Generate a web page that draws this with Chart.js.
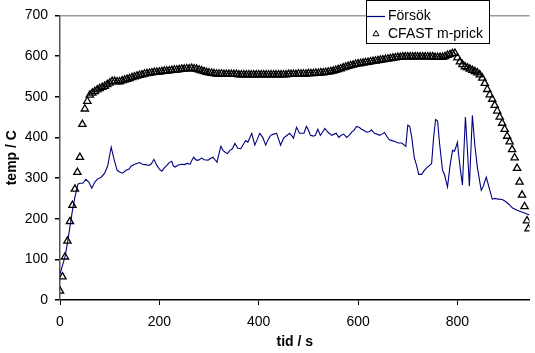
<!DOCTYPE html>
<html>
<head>
<meta charset="utf-8">
<script src="https://cdn.jsdelivr.net/npm/chart.js@4"></script>
<style>
  body { margin: 0; background: #fff; }
  canvas { display: block; }
</style>
</head>
<body>
<canvas id="myChart" width="535" height="353"></canvas>
<script>
// Serie 1: Försök (mätning)
const forsokTid = [0, 5, 10, 15, 20, 25, 30, 36, 40, 46, 52, 58, 64, 70, 76, 83, 90, 96, 103, 109,
  115, 120, 126, 133, 139, 143, 149, 155, 160, 166, 172, 179, 184, 189, 195, 200, 205, 210, 215, 220,
  225, 228, 232, 238, 245, 250, 256, 262, 266, 269, 274, 279, 285, 290, 298, 303, 308, 312, 316, 320,
  324, 328, 332, 337, 342, 347, 352, 358, 364, 370, 374, 378, 386, 392, 397, 402, 408, 414, 419, 424,
  430, 436, 444, 450, 456, 462, 466, 470, 476, 482, 491, 496, 500, 504, 510, 514, 519, 524, 528, 533,
  540, 547, 552, 556, 561, 566, 571, 577, 582, 587, 592, 597, 602, 607, 612, 617, 622, 627, 633, 638,
  643, 648, 653, 658, 663, 668, 674, 681, 688, 696, 700, 704, 708, 713, 718, 722, 728, 733, 738, 743,
  748, 752, 756, 760, 764, 770, 774, 780, 785, 790, 794, 798, 800, 802, 806, 810, 816, 820, 824, 830,
  835, 840, 845, 848, 852, 858, 864, 870, 876, 882, 890, 896, 904, 911, 920, 928, 935, 945];
const forsokTemp = [64, 85, 106, 140, 180, 220, 253, 285, 287, 287, 297, 290, 275, 290, 298, 302, 312, 330, 376, 345,
  319, 315, 312, 319, 322, 329, 333, 336, 338, 334, 333, 331, 335, 346, 331, 322, 317, 325, 331, 338,
  341, 330, 327, 332, 334, 333, 336, 334, 345, 351, 344, 344, 349, 345, 344, 348, 351, 345, 339, 360,
  378, 368, 364, 360, 368, 372, 385, 373, 372, 385, 392, 388, 410, 381, 395, 410, 400, 381, 395, 405,
  408, 410, 381, 398, 404, 410, 405, 398, 425, 410, 410, 427, 418, 405, 403, 405, 420, 405, 412, 422,
  412, 405, 408, 410, 400, 405, 408, 400, 405, 413, 418, 427, 425, 420, 417, 413, 414, 418, 410, 408,
  405, 408, 412, 402, 394, 392, 390, 386, 386, 378, 430, 427, 400, 351, 330, 309, 309, 318, 325, 330,
  336, 400, 444, 440, 385, 319, 308, 278, 330, 368, 366, 380, 388, 361, 320, 283, 450, 370, 280, 454,
  380, 327, 290, 270, 280, 302, 275, 248, 250, 248, 247, 243, 235, 226, 221, 217, 214, 209];

// Serie 2: CFAST m-prick (beräkning)
const cfastTid = [0, 5, 10, 15, 20, 25, 30, 35, 40, 45, 50, 55, 60, 65, 70, 75, 80, 85, 90, 95,
  100, 105, 110, 115, 120, 125, 130, 135, 140, 145, 150, 155, 160, 165, 170, 175, 180, 185, 190, 195,
  200, 205, 210, 215, 220, 225, 230, 235, 240, 245, 250, 255, 260, 265, 270, 275, 280, 285, 290, 295,
  300, 305, 310, 315, 320, 325, 330, 335, 340, 345, 350, 355, 360, 365, 370, 375, 380, 385, 390, 395,
  400, 405, 410, 415, 420, 425, 430, 435, 440, 445, 450, 455, 460, 465, 470, 475, 480, 485, 490, 495,
  500, 505, 510, 515, 520, 525, 530, 535, 540, 545, 550, 555, 560, 565, 570, 575, 580, 585, 590, 595,
  600, 605, 610, 615, 620, 625, 630, 635, 640, 645, 650, 655, 660, 665, 670, 675, 680, 685, 690, 695,
  700, 705, 710, 715, 720, 725, 730, 735, 740, 745, 750, 755, 760, 765, 770, 775, 780, 785, 790, 795,
  800, 805, 810, 815, 820, 825, 830, 835, 840, 845, 850, 855, 860, 865, 870, 875, 880, 885, 890, 895,
  900, 905, 910, 915, 920, 925, 930, 935, 940, 943];
const cfastTemp = [22, 57, 106, 145, 193, 233, 273, 314, 351, 432, 470, 489, 504, 509, 513, 517, 520, 523, 526, 530,
  534, 538, 538, 537, 537, 539, 541, 543, 545, 547, 549, 551, 553, 554, 556, 557, 558, 559, 560, 560,
  561, 562, 563, 563, 564, 565, 566, 566, 567, 568, 568, 569, 569, 570, 569, 568, 566, 564, 562, 560,
  559, 558, 557, 556, 556, 556, 555, 555, 555, 555, 555, 555, 554, 554, 554, 554, 554, 554, 554, 554,
  554, 554, 554, 554, 554, 554, 554, 554, 554, 554, 554, 554, 555, 555, 555, 555, 556, 556, 556, 556,
  557, 557, 557, 558, 558, 559, 559, 560, 561, 562, 563, 565, 567, 569, 571, 573, 575, 577, 578, 580,
  581, 582, 583, 584, 585, 586, 587, 588, 589, 590, 591, 592, 593, 594, 595, 596, 597, 597, 598, 598,
  598, 598, 598, 598, 598, 598, 598, 598, 598, 598, 598, 597, 597, 597, 597, 599, 602, 604, 606, 607,
  596, 586, 579, 574, 571, 568, 565, 562, 559, 554, 546, 533, 518, 505, 494, 479, 465, 450, 435, 420,
  403, 389, 370, 350, 324, 290, 258, 230, 195, 175];

// Axlar
const xTicks = [0, 200, 400, 600, 800];
const yTicks = [0, 100, 200, 300, 400, 500, 600, 700];
const xMax = 945;
const serieNamn = ["Försök", "CFAST m-prick"];

const toPoints = (tid, temp) => tid.map((t, i) => ({ x: t, y: temp[i] }));

Chart.defaults.font.family = "'Liberation Sans', Arial, sans-serif";
Chart.defaults.font.size = 14;
Chart.defaults.color = "#000";

// Legend ritad som i Excel: vit ruta med svart ram
const legendBox = {
  id: "legendBox",
  afterDraw(chart) {
    const ctx = chart.ctx;
    ctx.save();
    ctx.fillStyle = "#fff";
    ctx.fillRect(366.5, 0.5, 123, 43);
    ctx.strokeStyle = "#000";
    ctx.lineWidth = 1;
    ctx.strokeRect(366.5, 0.5, 123, 43);
    ctx.strokeStyle = "#000080";
    ctx.lineWidth = 1.2;
    ctx.beginPath();
    ctx.moveTo(367, 16.5);
    ctx.lineTo(385, 16.5);
    ctx.stroke();
    ctx.strokeStyle = "#000";
    ctx.lineWidth = 1;
    Chart.helpers.drawPoint(ctx, { pointStyle: "triangle", radius: 3.5, borderWidth: 1 }, 376, 34);
    ctx.fillStyle = "#000";
    ctx.font = "14px 'Liberation Sans', Arial, sans-serif";
    ctx.textBaseline = "middle";
    ctx.fillText(serieNamn[0], 388, 16);
    ctx.fillText(serieNamn[1], 388, 34);
    ctx.restore();
  },
};

const ctx = document.getElementById("myChart").getContext("2d");
const myChart = new Chart(ctx, {
  type: "scatter",
  data: {
    datasets: [
      {
        label: serieNamn[1],
        data: toPoints(cfastTid, cfastTemp),
        showLine: false,
        pointStyle: "triangle",
        pointRadius: 4.2,
        pointBorderWidth: 1.3,
        pointBorderColor: "#000",
        pointBackgroundColor: "rgba(0,0,0,0)",
      },
      {
        label: serieNamn[0],
        data: toPoints(forsokTid, forsokTemp),
        showLine: true,
        borderColor: "#000080",
        borderWidth: 1.1,
        pointRadius: 0,
        tension: 0,
      },
    ],
  },
  options: {
    responsive: false,
    animation: false,
    layout: { padding: { top: 15, right: 0, left: 0, bottom: 0 } },
    plugins: { legend: { display: false }, tooltip: { enabled: false } },
    scales: {
      x: {
        type: "linear",
        min: 0,
        max: xMax,
        afterBuildTicks: (scale) => { scale.ticks = xTicks.map((v) => ({ value: v })); },
        afterFit: (scale) => { scale.height = 53; },
        ticks: { padding: 9, maxRotation: 0 },
        grid: { drawOnChartArea: false, tickLength: 5, tickColor: "#000" },
        border: { color: "#000", width: 1.5 },
        title: { display: true, text: "tid / s", font: { weight: "bold", size: 14 }, padding: { top: 0, bottom: 2 } },
      },
      y: {
        min: 0,
        max: 700,
        afterBuildTicks: (scale) => { scale.ticks = yTicks.map((v) => ({ value: v })); },
        afterFit: (scale) => { scale.width = 60; },
        ticks: { padding: 7 },
        grid: {
          color: (c) => (c.tick && c.tick.value === 700 ? "#9a9a9a" : "rgba(0,0,0,0)"),
          lineWidth: 1.5,
          tickLength: 5,
          tickColor: "#000",
        },
        border: { color: "#555", width: 1.5 },
        title: { display: true, text: "temp / C", font: { weight: "bold", size: 14 }, padding: { top: 4, bottom: 0 } },
      },
    },
  },
  plugins: [legendBox],
});
</script>
</body>
</html>
